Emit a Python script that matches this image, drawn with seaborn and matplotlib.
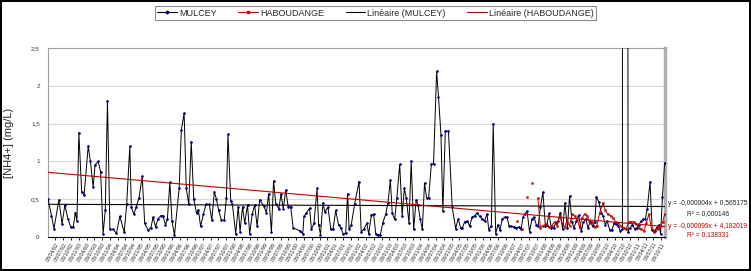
import numpy as np
import pandas as pd
import seaborn as sns
import matplotlib
matplotlib.use("Agg")
import matplotlib.pyplot as plt
import matplotlib.dates as mdates
from matplotlib.lines import Line2D

# sample dates (decimal years) and NH4+ concentrations (mg/L)
mulcey_year = [
    1992.03, 1992.14, 1992.22, 1992.38, 1992.48, 1992.57, 1992.67, 1992.76, 1992.84, 1992.91,
    1992.96, 1993.02, 1993.11, 1993.19, 1993.32, 1993.39, 1993.48, 1993.54, 1993.64, 1993.72,
    1993.80, 1993.87, 1993.94, 1994.02, 1994.11, 1994.23, 1994.34, 1994.48, 1994.56, 1994.66,
    1994.71, 1994.79, 1994.87, 1994.96, 1995.06, 1995.14, 1995.25, 1995.34, 1995.41, 1995.49,
    1995.57, 1995.66, 1995.73, 1995.81, 1995.87, 1995.95, 1996.02, 1996.10, 1996.25, 1996.32,
    1996.41, 1996.48, 1996.56, 1996.64, 1996.72, 1996.81, 1996.87, 1996.94, 1997.03, 1997.11,
    1997.22, 1997.30, 1997.38, 1997.45, 1997.52, 1997.61, 1997.70, 1997.77, 1997.82, 1997.91,
    1997.96, 1998.07, 1998.15, 1998.21, 1998.29, 1998.36, 1998.45, 1998.52, 1998.60, 1998.68,
    1998.76, 1998.84, 1998.97, 1999.06, 1999.13, 1999.22, 1999.29, 1999.36, 1999.46, 1999.53,
    1999.60, 1999.68, 1999.76, 1999.84, 1999.92, 2000.13, 2000.23, 2000.27, 2000.35, 2000.45,
    2000.51, 2000.59, 2000.69, 2000.74, 2000.80, 2000.88, 2000.94, 2001.04, 2001.13, 2001.20,
    2001.29, 2001.38, 2001.45, 2001.53, 2001.61, 2001.67, 2001.72, 2001.79, 2001.90, 2002.04,
    2002.11, 2002.20, 2002.29, 2002.35, 2002.44, 2002.51, 2002.58, 2002.65, 2002.73, 2002.80,
    2002.90, 2002.97, 2003.05, 2003.11, 2003.19, 2003.26, 2003.35, 2003.43, 2003.50, 2003.56,
    2003.65, 2003.72, 2003.80, 2003.88, 2003.94, 2004.01, 2004.08, 2004.15, 2004.22, 2004.28,
    2004.37, 2004.44, 2004.54, 2004.60, 2004.68, 2004.74, 2004.82, 2004.92, 2005.04, 2005.15,
    2005.23, 2005.31, 2005.37, 2005.44, 2005.53, 2005.60, 2005.68, 2005.76, 2005.84, 2005.92,
    2006.00, 2006.08, 2006.16, 2006.22, 2006.30, 2006.36, 2006.44, 2006.51, 2006.58, 2006.65,
    2006.73, 2006.80, 2006.87, 2006.94, 2007.03, 2007.10, 2007.19, 2007.26, 2007.32, 2007.37,
    2007.45, 2007.53, 2007.61, 2007.67, 2007.75, 2007.81, 2007.88, 2007.96, 2008.04, 2008.09,
    2008.16, 2008.23, 2008.31, 2008.37, 2008.45, 2008.52, 2008.60, 2008.67, 2008.75, 2008.82,
    2008.90, 2008.96, 2009.04, 2009.11, 2009.20, 2009.26, 2009.34, 2009.41, 2009.49, 2009.56,
    2009.63, 2009.68, 2009.76, 2009.84, 2009.90, 2009.97, 2010.03, 2010.11, 2010.18, 2010.25,
    2010.32, 2010.38, 2010.45, 2010.52, 2010.55, 2010.66, 2010.70, 2010.76, 2010.84, 2010.91,
    2010.99, 2011.05, 2011.13, 2011.19, 2011.26, 2011.32, 2011.41, 2011.48, 2011.56, 2011.62,
    2011.70, 2011.75, 2011.81, 2011.88,
]
mulcey_nh4 = [
    0.50, 0.28, 0.11, 0.49, 0.17, 0.42, 0.24, 0.13, 0.13, 0.32,
    0.21, 1.38, 0.59, 0.56, 1.20, 1.00, 0.66, 0.95, 1.00, 0.86,
    0.04, 0.35, 1.80, 0.10, 0.10, 0.05, 0.27, 0.06, 0.43, 1.20,
    0.39, 0.30, 0.40, 0.52, 0.80, 0.18, 0.09, 0.12, 0.26, 0.13,
    0.24, 0.28, 0.28, 0.16, 0.23, 0.72, 0.21, 0.02, 0.64, 1.41,
    1.64, 0.64, 0.43, 1.26, 0.50, 0.31, 0.36, 0.14, 0.30, 0.43,
    0.43, 0.22, 0.59, 0.50, 0.35, 0.22, 0.22, 0.51, 1.36, 0.47,
    0.44, 0.04, 0.40, 0.07, 0.40, 0.18, 0.42, 0.04, 0.30, 0.42,
    0.14, 0.49, 0.41, 0.32, 0.57, 0.06, 0.74, 0.44, 0.37, 0.57,
    0.37, 0.62, 0.40, 0.40, 0.12, 0.08, 0.04, 0.27, 0.32, 0.38,
    0.10, 0.18, 0.64, 0.16, 0.03, 0.45, 0.33, 0.39, 0.10, 0.10,
    0.35, 0.16, 0.12, 0.04, 0.05, 0.57, 0.10, 0.16, 0.44, 0.73,
    0.07, 0.10, 0.18, 0.04, 0.29, 0.30, 0.04, 0.02, 0.03, 0.18,
    0.30, 0.45, 0.75, 0.31, 0.23, 0.52, 0.96, 0.28, 0.64, 0.52,
    0.18, 1.00, 0.10, 0.49, 0.42, 0.24, 0.10, 0.71, 0.51, 0.51,
    0.96, 0.97, 2.19, 1.85, 1.35, 0.34, 1.40, 1.40, 0.39, 0.11,
    0.24, 0.12, 0.12, 0.20, 0.21, 0.14, 0.26, 0.28, 0.32, 0.27,
    0.24, 0.21, 0.30, 0.09, 0.15, 1.50, 0.04, 0.16, 0.09, 0.24,
    0.26, 0.26, 0.15, 0.14, 0.13, 0.12, 0.13, 0.10, 0.26, 0.30,
    0.34, 0.07, 0.24, 0.26, 0.16, 0.15, 0.39, 0.59, 0.15, 0.16,
    0.31, 0.12, 0.12, 0.18, 0.21, 0.32, 0.10, 0.45, 0.12, 0.54,
    0.19, 0.12, 0.21, 0.29, 0.08, 0.19, 0.24, 0.12, 0.21, 0.14,
    0.19, 0.53, 0.46, 0.32, 0.27, 0.16, 0.21, 0.09, 0.09, 0.18,
    0.17, 0.15, 0.08, 0.10, 50.0, 50.0, 0.07, 0.12, 0.16, 0.11,
    0.12, 0.16, 0.21, 0.23, 0.24, 0.37, 0.73, 0.09, 0.08, 0.12,
    0.16, 0.04, 0.53, 0.98,
]

haboudange_year = [
    2007.14, 2007.22, 2007.30, 2007.38, 2007.45, 2007.53, 2007.61, 2007.70, 2007.80, 2007.88,
    2007.96, 2008.07, 2008.16, 2008.25, 2008.34, 2008.42, 2008.51, 2008.57, 2008.66, 2008.73,
    2008.82, 2008.90, 2008.98, 2009.07, 2009.14, 2009.22, 2009.30, 2009.39, 2009.46, 2009.54,
    2009.63, 2009.70, 2009.79, 2009.89, 2009.97, 2010.05, 2010.14, 2010.22, 2010.30, 2010.38,
    2010.46, 2010.57, 2010.64, 2010.72, 2010.81, 2010.89, 2010.97, 2011.04, 2011.13, 2011.21,
    2011.29, 2011.37, 2011.46, 2011.53, 2011.62, 2011.69, 2011.75, 2011.82, 2011.88,
]
haboudange_nh4 = [
    0.21, np.nan, 0.11, np.nan, 0.53, np.nan, 0.71, np.nan, 0.51, 0.12,
    0.15, 0.17, 0.13, 0.15, 0.20, 0.15, 0.28, 0.18, 0.13, 0.20,
    0.15, 0.30, 0.28, 0.22, 0.12, 0.25, 0.30, 0.28, 0.18, 0.20,
    0.13, 0.15, 0.32, 0.45, 0.35, 0.30, 0.28, 0.25, 0.20, 0.18,
    0.15, 0.12, 0.10, 0.20, 0.20, 0.20, 0.17, 0.12, 0.10, 0.08,
    0.18, 0.30, 0.10, 0.06, 0.10, 0.12, 0.14, 0.20, 0.30,
]

# Excel linear trend lines (x = Excel date serial)
trend_mulcey = (-0.000004, 0.565175, "0,000146")
trend_haboudange = (-0.000099, 4.182019, "0,138331")

y_ticks = [0, 0.5, 1, 1.5, 2, 2.5]
y_tick_labels = ["0", "0,5", "1", "1,5", "2", "2,5"]


def to_date(years):
    out = []
    for y in years:
        base = pd.Timestamp(year=int(y), month=1, day=1)
        out.append(base + pd.Timedelta(days=(y - int(y)) * 365.25))
    return pd.to_datetime(out)


mulcey = pd.DataFrame({"date": to_date(mulcey_year), "nh4": mulcey_nh4})
habou = pd.DataFrame({"date": to_date(haboudange_year), "nh4": haboudange_nh4})

sns.set_theme(style="white")
plt.rcParams["font.family"] = ["Liberation Sans", "DejaVu Sans"]

fig = plt.figure(figsize=(7.51, 2.71), dpi=100)
ax = fig.add_axes([0.064, 0.126, 0.821, 0.697])

blue = "#000080"
red = "#c00000"

sns.lineplot(data=mulcey, x="date", y="nh4", ax=ax, color="black", lw=0.7,
             marker="D", markersize=1.4, markerfacecolor=blue, markeredgecolor=blue,
             markeredgewidth=0.3, estimator=None, sort=False, zorder=3)

# HABOUDANGE with gaps where samples are missing
habou["seg"] = habou["nh4"].isna().cumsum()
for _, seg in habou.dropna().groupby("seg"):
    sns.lineplot(data=seg, x="date", y="nh4", ax=ax, color=red, lw=0.7,
                 marker="s", markersize=1.3, markerfacecolor=red, markeredgecolor=red,
                 markeredgewidth=0.3, estimator=None, sort=False, zorder=4)

# trend lines across the full date range
x0, x1 = mulcey["date"].min(), mulcey["date"].max()
tr_dates = pd.to_datetime([x0, x1])
serial = (tr_dates - pd.Timestamp("1899-12-30")).days.values.astype(float)
for (a, b, _), c in [(trend_mulcey, "black"), (trend_haboudange, red)]:
    ax.plot(tr_dates, a * serial + b, color=c, lw=0.8, zorder=5)

ax.set_xlim(x0, x1)
ax.set_ylim(0, 2.5)
ax.set_yticks(y_ticks)
ax.set_yticklabels(y_tick_labels, fontsize=4.5, color="#333333")
ax.yaxis.grid(True, color="#d9d9d9", lw=0.8)
ax.set_axisbelow(True)
ax.tick_params(axis="y", length=0, pad=6)

ax.xaxis.set_major_locator(mdates.MonthLocator(bymonth=[1, 4, 7, 10], bymonthday=8))
ax.xaxis.set_major_formatter(mdates.DateFormatter("%d/%m/%y"))
ax.tick_params(axis="x", length=2.5, width=0.6, color="black", bottom=True,
               labelsize=3.8, pad=1)
for lbl in ax.get_xticklabels():
    lbl.set_rotation(60)
    lbl.set_ha("right")
    lbl.set_rotation_mode("anchor")

ax.set_xlabel("")
ax.set_ylabel("[NH4+] (mg/L)", fontsize=8, labelpad=12)

for side in ["left", "top"]:
    ax.spines[side].set_color("#a0a0a0")
    ax.spines[side].set_linewidth(0.8)
ax.spines["right"].set_color("#b0b0b0")
ax.spines["right"].set_linewidth(2.5)
ax.spines["bottom"].set_color("black")
ax.spines["bottom"].set_linewidth(0.8)

# trend equations
fig.text(0.889, 0.245, "y = -0,000004x + 0,565175", fontsize=4.8, color="#222222")
fig.text(0.943, 0.208, "R² = " + trend_mulcey[2], fontsize=4.8, color="#222222", ha="center")
fig.text(0.889, 0.158, "y = -0,000099x + 4,182019", fontsize=4.8, color=red)
fig.text(0.943, 0.128, "R² = " + trend_haboudange[2], fontsize=4.8, color=red, ha="center")

handles = [
    Line2D([], [], color="black", lw=0.8, marker="D", markersize=1.5, markerfacecolor=blue, markeredgecolor=blue),
    Line2D([], [], color=red, lw=0.8, marker="s", markersize=1.5, markerfacecolor=red, markeredgecolor=red),
    Line2D([], [], color="black", lw=0.8),
    Line2D([], [], color=red, lw=0.8),
]
labels = ["MULCEY", "HABOUDANGE", "Linéaire (MULCEY)", "Linéaire (HABOUDANGE)"]
leg = fig.legend(handles, labels, loc="center", bbox_to_anchor=(0.50, 0.952), ncol=4,
                 fontsize=6.5, frameon=True, fancybox=False, handlelength=2.2,
                 handletextpad=0.2, columnspacing=2.4, borderpad=0.3)
leg.get_frame().set_edgecolor("#707070")
leg.get_frame().set_linewidth(0.8)

fig.patch.set_edgecolor("black")
fig.patch.set_linewidth(1.5)
fig.savefig("out.png", dpi=100, edgecolor="black")
